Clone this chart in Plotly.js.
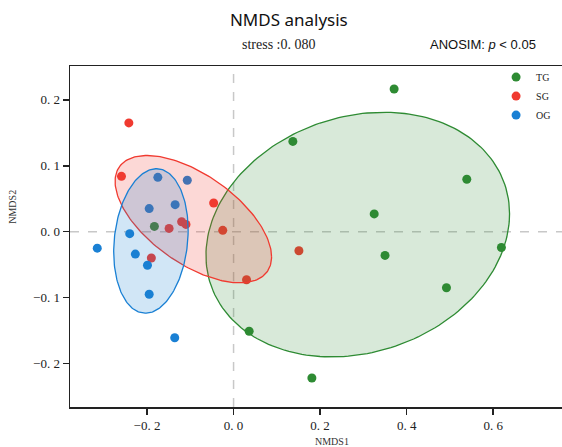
<!DOCTYPE html>
<html>
<head>
<meta charset="utf-8">
<script src="https://cdn.plot.ly/plotly-3.0.1.min.js"></script>
<style>html,body{margin:0;padding:0;background:#fff}#chart{width:562px;height:447px}</style>
</head>
<body>
<div id="chart"></div>
<script>
// ---- data ----
const groups = ["TG", "SG", "OG"];
const tgX = [-0.183, 0.036, 0.371, 0.137, 0.539, 0.325, 0.619, 0.350, 0.492, 0.181];
const tgY = [0.008, -0.151, 0.2165, 0.137, 0.0795, 0.027, -0.024, -0.036, -0.085, -0.222];
const sgX = [-0.242, -0.259, -0.046, -0.025, -0.149, -0.120, -0.110, -0.190, 0.030, 0.151];
const sgY = [0.165, 0.084, 0.0435, 0.002, 0.005, 0.015, 0.011, -0.040, -0.073, -0.029];
const ogX = [-0.175, -0.107, -0.195, -0.135, -0.240, -0.315, -0.227, -0.199, -0.195, -0.136];
const ogY = [0.0825, 0.078, 0.035, 0.041, -0.003, -0.025, -0.034, -0.051, -0.095, -0.161];

// ellipse parameters: centre, x half-extent, y half-extent, correlation
const ellCx = [0.287, -0.093, -0.191];
const ellCy = [-0.0044, 0.019, -0.0141];
const ellRx = [0.3508, 0.1808, 0.0860];
const ellRy = [0.1856, 0.0966, 0.1096];
const ellRho = [0.170, -0.592, 0.149];

const xTickVals = [-0.2, 0.0, 0.2, 0.4, 0.6];
const xTickText = ["\u22120. 2", "0. 0", "0. 2", "0. 4", "0. 6"];
const yTickVals = [-0.2, -0.1, 0.0, 0.1, 0.2];
const yTickText = ["\u22120. 2", "\u22120. 1", "0. 0", "0. 1", "0. 2"];

const colors = ["#2e8b33", "#f03a30", "#1a80d4"];
const fills = ["rgba(46,139,51,0.19)", "rgba(240,58,48,0.2)", "rgba(26,128,212,0.2)"];

const xs = [tgX, sgX, ogX];
const ys = [tgY, sgY, ogY];

const traces = [];
for (let g = 0; g < 3; g++) {
  traces.push({
    type: "scatter", mode: "markers", name: groups[g],
    x: xs[g], y: ys[g],
    marker: {color: colors[g], size: 9, line: {width: 0}},
    cliponaxis: false
  });
}
for (let g = 0; g < 3; g++) {
  const ex = [], ey = [];
  const n = 200;
  for (let i = 0; i <= n; i++) {
    const t = 2 * Math.PI * i / n;
    ex.push(ellCx[g] + ellRx[g] * Math.cos(t));
    ey.push(ellCy[g] + ellRy[g] * (ellRho[g] * Math.cos(t) + Math.sqrt(1 - ellRho[g] * ellRho[g]) * Math.sin(t)));
  }
  traces.push({
    type: "scatter", mode: "lines", x: ex, y: ey, showlegend: false, hoverinfo: "skip",
    fill: "toself", fillcolor: fills[g],
    line: {color: colors[g], width: 1.3}
  });
}

const serif = "Liberation Serif, DejaVu Serif, serif";
const layout = {
  width: 562, height: 447,
  margin: {l: 70, r: 0, t: 66, b: 40, autoexpand: false},
  paper_bgcolor: "#fff", plot_bgcolor: "#fff",
  showlegend: true,
  title: {text: "NMDS analysis", xref: "container", x: 0.514, xanchor: "center",
          yref: "container", y: 0.955, yanchor: "middle",
          font: {family: "Noto Sans, DejaVu Sans, sans-serif", size: 17, color: "#111"}},
  xaxis: {range: [-0.378, 0.759], showgrid: false, zeroline: false,
          showline: true, linecolor: "#222", linewidth: 1.5, mirror: true,
          ticks: "outside", ticklen: 6, tickwidth: 1.5, tickcolor: "#222",
          tickvals: xTickVals, ticktext: xTickText,
          tickfont: {family: serif, size: 13, color: "#222"}},
  yaxis: {range: [-0.266, 0.2514], showgrid: false, zeroline: false,
          showline: true, linecolor: "#222", linewidth: 1.5,
          ticks: "outside", ticklen: 6, tickwidth: 1.5, tickcolor: "#222",
          tickvals: yTickVals, ticktext: yTickText,
          tickfont: {family: serif, size: 13, color: "#222"}},
  legend: {x: 0.866, xanchor: "left", y: 1.01, yanchor: "top",
           bgcolor: "rgba(0,0,0,0)", font: {family: serif, size: 10, color: "#222"},
           tracegroupgap: 0, itemwidth: 30},
  shapes: [
    {type: "line", xref: "x", yref: "paper", x0: 0, x1: 0, y0: 0, y1: 1, layer: "below",
     line: {color: "#c8c8c8", width: 1.5, dash: "dash"}},
    {type: "line", xref: "paper", yref: "y", x0: 0, x1: 1, y0: 0, y1: 0, layer: "below",
     line: {color: "#c8c8c8", width: 1.5, dash: "dash"}}
  ],
  annotations: [
    {text: "stress :0. 080", xref: "paper", yref: "paper", x: 0.424, y: 1.062,
     xanchor: "center", yanchor: "middle", showarrow: false,
     font: {family: serif, size: 14, color: "#222"}},
    {text: "ANOSIM: <i>p</i> &lt; 0.05", xref: "paper", yref: "paper", x: 0.839, y: 1.062,
     xanchor: "center", yanchor: "middle", showarrow: false,
     font: {family: "Liberation Sans, Arial, sans-serif", size: 13, color: "#111"}},
    {text: "NMDS1", xref: "paper", yref: "paper", x: 0.533, y: -0.102,
     xanchor: "center", yanchor: "middle", showarrow: false,
     font: {family: serif, size: 10, color: "#333"}},
    {text: "NMDS2", xref: "paper", yref: "paper", x: -0.116, y: 0.587, textangle: -90,
     xanchor: "center", yanchor: "middle", showarrow: false,
     font: {family: serif, size: 10, color: "#333"}}
  ]
};

Plotly.newPlot("chart", traces, layout, {displayModeBar: false, staticPlot: true});
</script>
</body>
</html>
